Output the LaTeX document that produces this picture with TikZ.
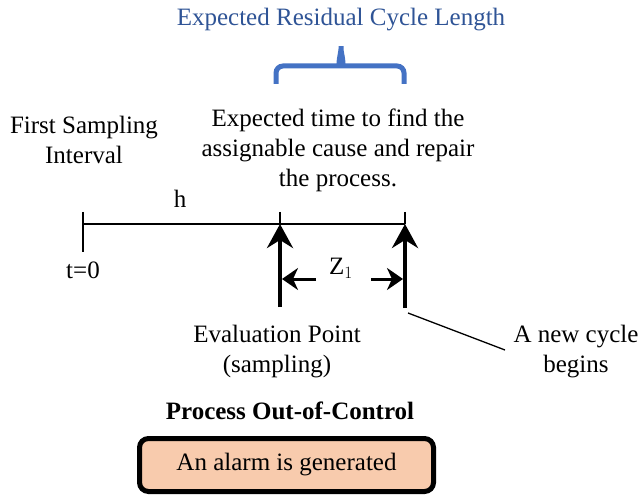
\documentclass[tikz,border=0pt]{standalone}
\usepackage{fontspec}
\setmainfont{Liberation Serif}
\usetikzlibrary{arrows.meta}
\definecolor{titleblue}{HTML}{2F5496}
\definecolor{braceblue}{HTML}{4472C4}
\definecolor{peach}{HTML}{F8CBAD}
\begin{document}
\begin{tikzpicture}[x=1pt,y=-1pt,
  txt/.style={inner sep=0pt,align=center,font=\fontsize{25}{30}\selectfont},
  bigup/.style={line width=4pt,-{Stealth[length=24pt,width=26pt,inset=8pt]}},
  zarrow/.style={line width=3pt,-{Stealth[length=16pt,width=22pt,inset=5pt]}},
  thin/.style={line width=1.3pt},
  alarmbox/.style={draw,line width=5pt,rounded corners=9pt,fill=peach,minimum width=294pt,minimum height=53pt,inner sep=0pt,font=\fontsize{25}{30}\selectfont}]
\useasboundingbox (0,0) rectangle (640,497);
% title and brace
\node[txt,text=titleblue] (title) at (341,20) {Expected Residual Cycle Length};
\draw[braceblue,line width=5pt,rounded corners=7pt] (276,84) |- (335,66) to[out=0,in=-90] (341,42) to[out=-90,in=180] (347,66) -| (404,84);
% texts
\node[txt] (first) at (84,140) {First Sampling\\Interval};
\node[txt] (expect) at (338,150) {Expected time to find the\\assignable cause and repair\\the process.};
\node[txt] (h) at (180,199) {h};
\node[txt] (t0) at (83,270) {t=0};
\node[txt] (z) at (341,268) {Z$_1$};
\node[txt] (eval) at (277,352) {Evaluation Point\\(sampling)};
\node[txt] (newc) at (576,352) {A new cycle\\begins};
\node[txt,font=\fontsize{25}{30}\selectfont\bfseries] (poc) at (290,411) {Process Out-of-Control};
\node[alarmbox] (alarm) at (286.5,465) {An alarm is generated};
% timeline
\coordinate (L) at (83,224);
\coordinate (M) at (280,224);
\coordinate (R) at (405,224);
\draw[thin] (L) -- (R);
\draw[thin] (83,212) -- (83,252);
\draw[thin] (280,212) -- (M);
\draw[thin] (405,212) -- (R);
% upward arrows
\coordinate (Mb) at (280,307);
\coordinate (Rb) at (405,308);
\draw[bigup] (Mb) -- (M);
\draw[bigup] (Rb) -- (R);
% Z1 arrows
\coordinate (zl1) at (316,279);
\coordinate (zl2) at (282,279);
\coordinate (zr1) at (371,279);
\coordinate (zr2) at (403,279);
\draw[zarrow] (zl1) -- (zl2);
\draw[zarrow] (zr1) -- (zr2);
% leader line
\coordinate (ld1) at (408,313);
\coordinate (ld2) at (505,350);
\draw[thin] (ld1) -- (ld2);
\end{tikzpicture}
\end{document}
